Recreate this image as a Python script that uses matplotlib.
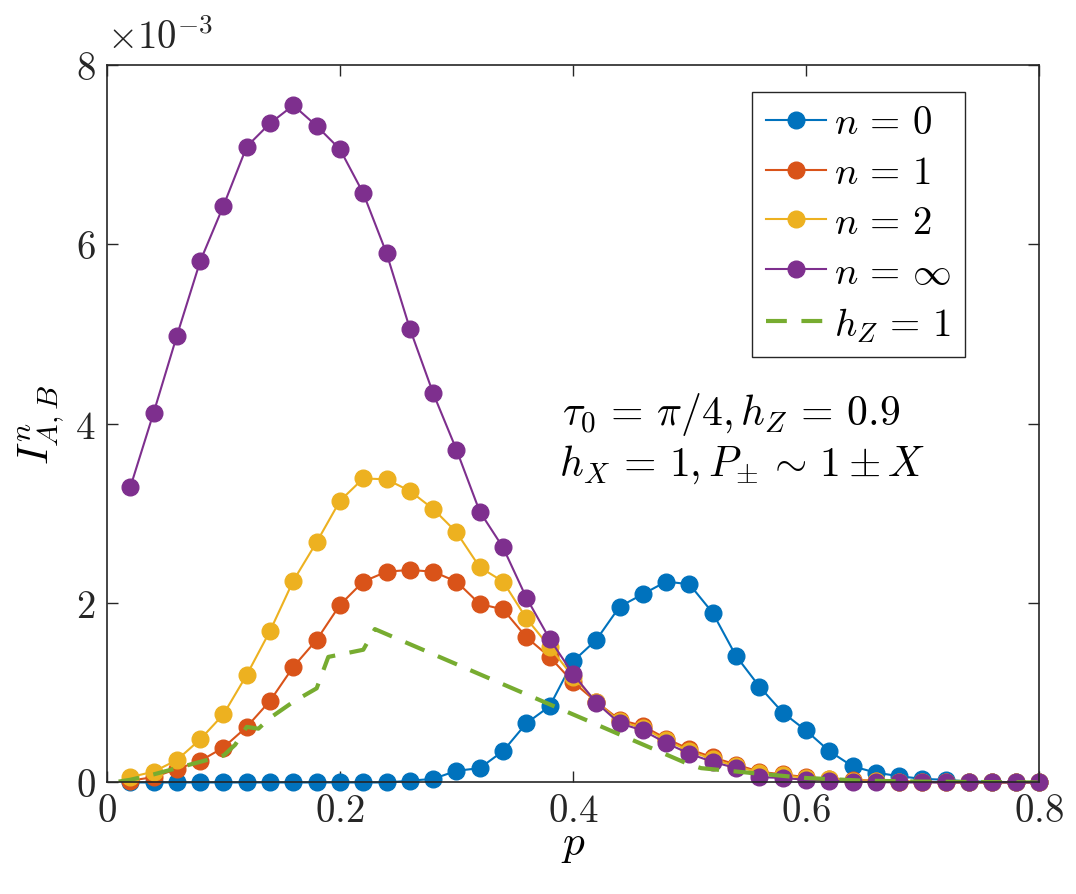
import numpy as np
import matplotlib
matplotlib.use("Agg")
import matplotlib.pyplot as plt

plt.rcParams["mathtext.fontset"] = "cm"
plt.rcParams["font.family"] = "serif"
plt.rcParams["font.serif"] = ["cmr10", "DejaVu Serif"]

# values in units of 1e-3
p = np.round(np.arange(1, 41) * 0.02, 2)

I_n0 = [0, 0, 0, 0, 0, 0, 0, 0, 0, 0, 0, 0,
        0.02, 0.04, 0.13, 0.16, 0.35, 0.66, 0.85, 1.35, 1.59, 1.96, 2.10, 2.24,
        2.21, 1.89, 1.41, 1.07, 0.78, 0.58, 0.35, 0.18, 0.11, 0.07, 0.04, 0.03,
        0.01, 0.01, 0, 0]
I_n1 = [0.02, 0.06, 0.15, 0.24, 0.39, 0.62, 0.91, 1.29, 1.59, 1.98, 2.24, 2.35,
        2.37, 2.35, 2.24, 1.99, 1.93, 1.62, 1.40, 1.12, 0.90, 0.70, 0.63, 0.49,
        0.37, 0.28, 0.20, 0.12, 0.09, 0.06, 0.04, 0.03, 0.02, 0.01, 0.01,
        0, 0, 0, 0, 0]
I_n2 = [0.06, 0.12, 0.25, 0.48, 0.76, 1.20, 1.69, 2.25, 2.68, 3.14, 3.39, 3.38,
        3.25, 3.05, 2.79, 2.40, 2.24, 1.83, 1.51, 1.18, 0.90, 0.68, 0.61, 0.47,
        0.35, 0.26, 0.18, 0.11, 0.08, 0.05, 0.04, 0.02, 0.02, 0.01, 0.01,
        0, 0, 0, 0, 0]
I_ninf = [3.29, 4.12, 4.98, 5.81, 6.43, 7.09, 7.35, 7.55, 7.32, 7.06, 6.57, 5.90,
          5.06, 4.34, 3.71, 3.02, 2.62, 2.06, 1.60, 1.21, 0.89, 0.66, 0.58, 0.44,
          0.32, 0.23, 0.16, 0.06, 0.05, 0.03, 0.02, 0.01, 0.005,
          0, 0, 0, 0, 0, 0, 0]

# h_Z = 1 curve (corner points of the dashed line)
p_hz1 = [0.01, 0.02, 0.04, 0.06, 0.08, 0.10, 0.11, 0.12, 0.13, 0.14, 0.16, 0.18,
         0.19, 0.22, 0.23, 0.50, 0.51, 0.55, 0.60, 0.65, 0.70, 0.80]
I_hz1 = [0.01, 0.03, 0.09, 0.16, 0.23, 0.30, 0.42, 0.62, 0.60, 0.72, 0.90, 1.05,
         1.40, 1.48, 1.71, 0.20, 0.16, 0.11, 0.05, 0.02, 0.01, 0.0]

colors = ["#0072BD", "#D95319", "#EDB120", "#7E2F8E", "#77AC30"]
labels = [r"$n\,=\,0$", r"$n\,=\,1$", r"$n\,=\,2$", r"$n\,=\,\infty$", r"$h_Z\,=\,1$"]

fig = plt.figure(figsize=(10.76, 8.95), dpi=100)
ax = fig.add_axes([0.0994, 0.1246, 0.8662, 0.8017])

for y, c, lab in zip([I_n0, I_n1, I_n2, I_ninf], colors, labels):
    ax.plot(p, y, "-o", color=c, lw=1.5, ms=12, label=lab, clip_on=False)
ax.plot(p_hz1, I_hz1, "--", color=colors[4], lw=3, dashes=(5, 3.5), label=labels[4])

ax.set_xlim(0, 0.8)
ax.set_ylim(0, 8)
ax.set_xticks([0, 0.2, 0.4, 0.6, 0.8])
ax.set_xticklabels([r"$0$", r"$0.2$", r"$0.4$", r"$0.6$", r"$0.8$"])
ax.set_yticks([0, 2, 4, 6, 8])
ax.set_yticklabels([r"$0$", r"$2$", r"$4$", r"$6$", r"$8$"])
ax.tick_params(direction="in", length=8, width=1, labelsize=28, top=True, right=True,
               color="#262626", labelcolor="#262626", pad=8)
for s in ax.spines.values():
    s.set_linewidth(1.2)
    s.set_color("#262626")

ax.set_xlabel(r"$p$", fontsize=31, labelpad=-2)
ax.set_ylabel(r"$I^n_{A,B}$", fontsize=31, labelpad=6)
ax.text(0.0, 1.012, r"$\times 10^{-3}$", transform=ax.transAxes, fontsize=28,
        ha="left", va="bottom", color="#262626")

ax.text(0.391, 4.11, r"$\tau_0\,=\,\pi/4, h_Z\,=\,0.9$", fontsize=30, va="center")
ax.text(0.388, 3.55, r"$h_X\,=\,1, P_{\pm}\,\sim\,1\pm X$", fontsize=30, va="center")

leg = ax.legend(loc="upper right", bbox_to_anchor=(0.9206, 0.9624), fontsize=28,
                handlelength=1.55, handletextpad=0.2, labelspacing=0.36,
                borderpad=0.35, fancybox=False, framealpha=1, borderaxespad=0)
leg.get_frame().set_edgecolor("#262626")
leg.get_frame().set_linewidth(1)

fig.savefig("out.png", dpi=100)
